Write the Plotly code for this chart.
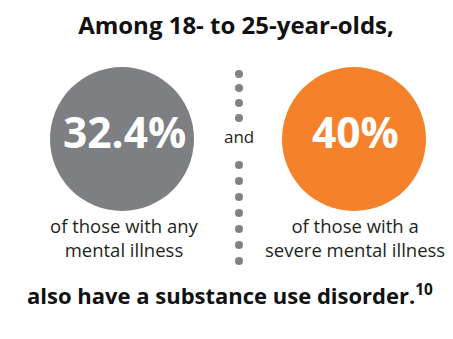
import plotly.graph_objects as go

# Data
groups = ["of those with any<br>mental illness", "of those with a<br>severe mental illness"]
percents = [32.4, 40]
percent_labels = ["32.4%", "40%"]
title_text = "Among 18- to 25-year-olds,"
footer_text = "also have a substance use disorder.<sup>10</sup>"
connector_text = "and"

W, H = 453, 339
circle_colors = ["#7d7f82", "#f5822a"]
circle_x = [114, 346]
circle_y = [131, 131]
circle_d = 144
label_x = [116, 347]

fig = go.Figure()

# big circles
fig.add_trace(go.Scatter(
    x=circle_x, y=circle_y, mode="markers",
    marker=dict(size=circle_d, color=circle_colors, line=dict(width=0)),
    hoverinfo="skip", showlegend=False,
))

# dotted connector
dots_y = [66, 80, 95, 110, 157, 173, 189, 205, 221, 237, 253]
fig.add_trace(go.Scatter(
    x=[231] * len(dots_y), y=dots_y, mode="markers",
    marker=dict(size=8, color="#808285"),
    hoverinfo="skip", showlegend=False,
))

# title as text trace (avoids annotation box clipping at top edge)
fig.add_trace(go.Scatter(
    x=[228], y=[20], mode="text", text=[title_text], textposition="middle center",
    textfont=dict(family="Open Sans", size=24, color="#111111", weight="bold"),
    hoverinfo="skip", showlegend=False, cliponaxis=False,
))

annos = []
annos.append(dict(x=231, y=128, text=connector_text,
                  font=dict(family="Open Sans", size=17, color="#231f20")))
for lx, lab in zip(label_x, percent_labels):
    annos.append(dict(x=lx, y=123, text=lab,
                      font=dict(family="Open Sans", size=42.5, color="white", weight="bold")))
for lx, g in zip(label_x, groups):
    annos.append(dict(x=lx, y=229, text=g,
                      font=dict(family="Open Sans", size=18.5, color="#231f20")))
annos.append(dict(x=222, y=286, text=footer_text,
                  font=dict(family="Open Sans", size=22, color="#111111", weight="bold")))
for a in annos:
    a.update(xref="x", yref="y", showarrow=False)

fig.update_layout(
    width=W, height=H, margin=dict(l=0, r=0, t=0, b=0),
    paper_bgcolor="white", plot_bgcolor="white",
    xaxis=dict(range=[0, W], visible=False, fixedrange=True),
    yaxis=dict(range=[H, 0], visible=False, fixedrange=True),
    annotations=annos,
)

fig.write_html("out.html")
